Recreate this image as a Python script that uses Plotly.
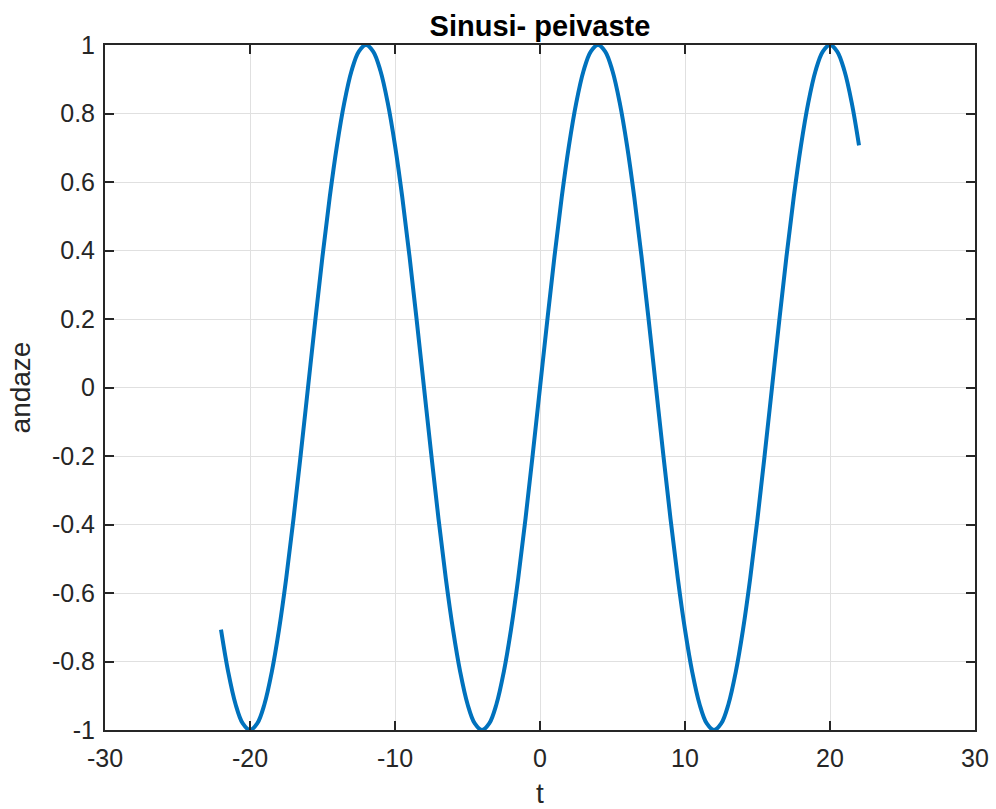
import plotly.graph_objects as go

# Sampled sinusoid: time instants (step 0.5) and amplitudes
t = [-22 + 0.5 * i for i in range(89)]
andaze = [
    -0.707, -0.831, -0.924, -0.981, -1.0, -0.981, -0.924, -0.831,
    -0.707, -0.556, -0.383, -0.195, 0.0, 0.195, 0.383, 0.556,
    0.707, 0.831, 0.924, 0.981, 1.0, 0.981, 0.924, 0.831,
    0.707, 0.556, 0.383, 0.195, 0.0, -0.195, -0.383, -0.556,
    -0.707, -0.831, -0.924, -0.981, -1.0, -0.981, -0.924, -0.831,
    -0.707, -0.556, -0.383, -0.195, 0.0, 0.195, 0.383, 0.556,
    0.707, 0.831, 0.924, 0.981, 1.0, 0.981, 0.924, 0.831,
    0.707, 0.556, 0.383, 0.195, 0.0, -0.195, -0.383, -0.556,
    -0.707, -0.831, -0.924, -0.981, -1.0, -0.981, -0.924, -0.831,
    -0.707, -0.556, -0.383, -0.195, 0.0, 0.195, 0.383, 0.556,
    0.707, 0.831, 0.924, 0.981, 1.0, 0.981, 0.924, 0.831,
    0.707,
]

x_ticks = [-30, -20, -10, 0, 10, 20, 30]
y_ticks = [-1, -0.8, -0.6, -0.4, -0.2, 0, 0.2, 0.4, 0.6, 0.8, 1]
y_tick_text = ["-1", "-0.8", "-0.6", "-0.4", "-0.2", "0", "0.2", "0.4", "0.6", "0.8", "1"]

FONT = "Liberation Sans, Arial, Helvetica, sans-serif"
INK = "#262626"

fig = go.Figure(
    go.Scatter(
        x=t, y=andaze, mode="lines",
        line=dict(color="#0072BD", width=4, shape="spline", smoothing=1.0),
        showlegend=False,
    )
)

axis_common = dict(
    showline=True, linecolor=INK, linewidth=2, mirror="ticks",
    ticks="inside", ticklen=9, tickwidth=2, tickcolor=INK,
    showgrid=True, gridcolor="#E0E0E0", gridwidth=1,
    zeroline=False, automargin=False,
    tickfont=dict(family=FONT, size=25, color=INK),
)

fig.update_xaxes(
    range=[-30, 30], tickvals=x_ticks, ticktext=[str(v) for v in x_ticks],
    ticklabelstandoff=5,
    title=dict(text="t", font=dict(family=FONT, size=28, color=INK), standoff=14),
    **axis_common,
)
fig.update_yaxes(
    range=[-1, 1], tickvals=y_ticks, ticktext=y_tick_text,
    ticklabelstandoff=3,
    title=dict(text="andaze", font=dict(family=FONT, size=28, color=INK), standoff=13),
    **axis_common,
)

fig.update_layout(
    width=996, height=809,
    margin=dict(l=105, r=21, t=45, b=79),
    paper_bgcolor="white", plot_bgcolor="white",
    title=dict(
        text="<b>Sinusi- peivaste</b>",
        font=dict(family=FONT, size=29, color="black"),
        x=0.5, xanchor="center", xref="paper",
        y=1 - 26 / 809, yref="container", yanchor="middle",
    ),
)

fig.write_html("out.html")
